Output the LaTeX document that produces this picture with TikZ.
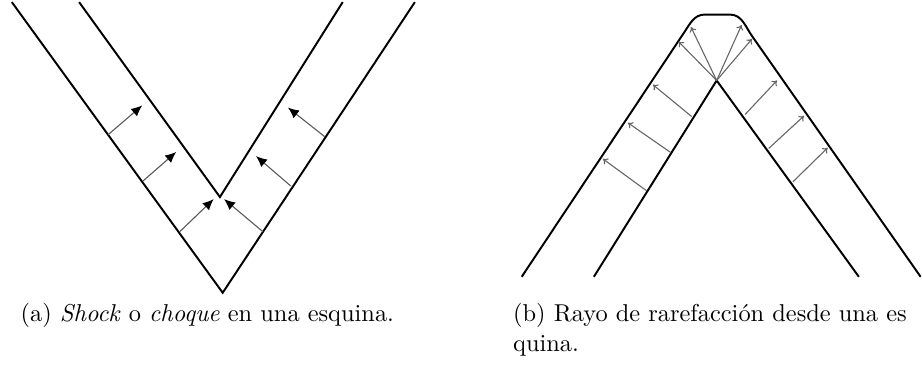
\documentclass[tikz,border=0pt]{standalone}
\usepackage{fontspec}
\usetikzlibrary{arrows.meta}

\begin{document}
\begin{tikzpicture}[
  x=1cm, y=1cm,
  every node/.style={inner sep=1pt},
  wall/.style={draw, line width=0.8pt},
  % gray shaft with a black filled head for the converging waves,
  % thin gray open head for the rarefaction rays
  shockarrow/.style={draw, line width=0.45pt, black!65, -{Latex[black, length=4.5pt, width=4pt]}},
  rayarrow/.style={draw, line width=0.45pt, black!60, -{To[length=2pt, width=3pt]}},
  caption/.style={anchor=base west, inner sep=0pt, font=\fontsize{10}{12}\selectfont}]

  \useasboundingbox (0,0) rectangle (13.29,5.43);

  % (a) corner walls
  \coordinate (aoL)  at (0.17,5.40);
  \coordinate (aoB)  at (3.21,1.21);
  \coordinate (aoR)  at (5.98,5.40);
  \coordinate (aiL)  at (1.14,5.40);
  \coordinate (aiB)  at (3.17,2.59);
  \coordinate (aiR)  at (4.94,5.40);
  \draw[wall] (aoL) -- (aoB) -- (aoR);
  \draw[wall] (aiL) -- (aiB) -- (aiR);

  % (a) converging arrows
  \draw[shockarrow] (1.56,3.49) -- (2.05,3.91);
  \draw[shockarrow] (2.06,2.82) -- (2.54,3.24);
  \draw[shockarrow] (2.59,2.09) -- (3.08,2.56);
  \draw[shockarrow] (4.68,3.46) -- (4.15,3.88);
  \draw[shockarrow] (4.19,2.75) -- (3.69,3.18);
  \draw[shockarrow] (3.79,2.09) -- (3.23,2.56);

  % (b) rounded outer wall and inner corner
  \coordinate (boLB) at (7.52,1.44);
  \coordinate (boLT) at (9.86,4.96);
  \coordinate (bTL)  at (10.16,5.22);
  \coordinate (bTR)  at (10.52,5.22);
  \coordinate (boRT) at (10.84,4.91);
  \coordinate (boRB) at (13.27,1.44);
  \coordinate (biLB) at (8.56,1.44);
  \coordinate (biA)  at (10.33,4.27);
  \coordinate (biRB) at (12.38,1.44);
  \draw[wall] (boLB) -- (boLT) to[out=56, in=180] (bTL) -- (bTR)
    to[out=0, in=125] (boRT) -- (boRB);
  \draw[wall] (biLB) -- (biA) -- (biRB);

  % (b) rays
  \draw[rayarrow] (9.97,3.75) -- (9.41,4.21);
  \draw[rayarrow] (9.67,3.23) -- (9.05,3.66);
  \draw[rayarrow] (9.32,2.68) -- (8.69,3.14);
  \draw[rayarrow] (10.74,3.78) -- (11.20,4.27);
  \draw[rayarrow] (11.08,3.29) -- (11.59,3.76);
  \draw[rayarrow] (11.43,2.81) -- (11.93,3.30);
  \draw[rayarrow] (biA) -- (9.78,4.83);
  \draw[rayarrow] (biA) -- (9.96,5.04);
  \draw[rayarrow] (biA) -- (10.69,5.07);
  \draw[rayarrow] (biA) -- (10.84,4.87);

  % captions
  \node[caption] (capa) at (0.29,0.79) {(a) \textit{Shock} o \textit{choque} en una esquina.};
  \node[caption] (capb) at (7.39,0.79) {\begin{tabular}[t]{@{}l@{}}(b) Rayo de rarefacción desde una es\\quina.\end{tabular}};
\end{tikzpicture}
\end{document}
